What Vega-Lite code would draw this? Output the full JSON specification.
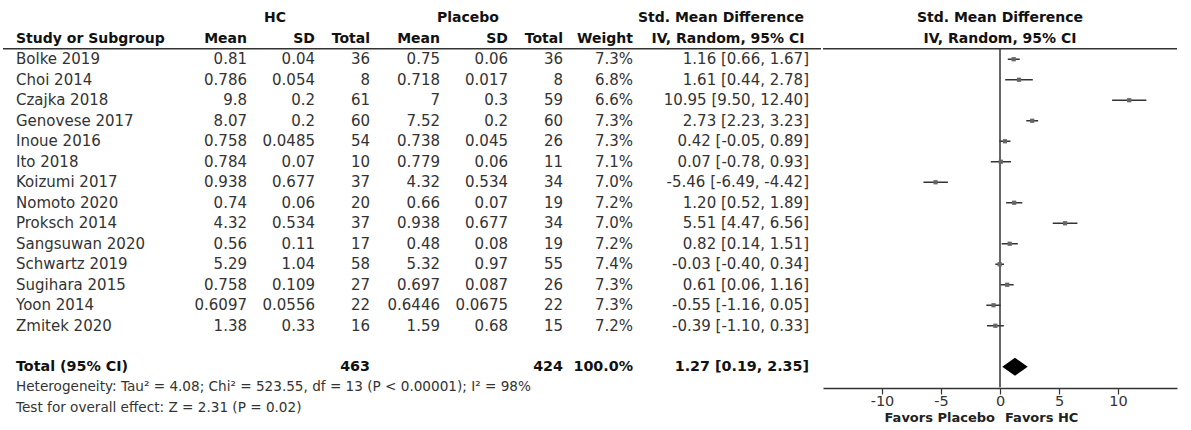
{
  "$schema": "https://vega.github.io/schema/vega-lite/v6.json",
  "padding": {"left": 0, "top": 8, "right": 0, "bottom": 0},
  "background": "white",
  "config": {
    "view": {"stroke": null},
    "concat": {"spacing": 0},
    "text": {"font": "DejaVu Sans", "fontSize": 15, "color": "#333", "baseline": "middle"}
  },
  "datasets": {
    "studies": [
      {"row": "Bolke 2019", "hm": "0.81", "hsd": "0.04", "hn": "36", "pm": "0.75", "psd": "0.06", "pn": "36", "w": "7.3%", "ci": "1.16 [0.66, 1.67]", "smd": 1.16, "lo": 0.66, "hi": 1.67},
      {"row": "Choi 2014", "hm": "0.786", "hsd": "0.054", "hn": "8", "pm": "0.718", "psd": "0.017", "pn": "8", "w": "6.8%", "ci": "1.61 [0.44, 2.78]", "smd": 1.61, "lo": 0.44, "hi": 2.78},
      {"row": "Czajka 2018", "hm": "9.8", "hsd": "0.2", "hn": "61", "pm": "7", "psd": "0.3", "pn": "59", "w": "6.6%", "ci": "10.95 [9.50, 12.40]", "smd": 10.95, "lo": 9.5, "hi": 12.4},
      {"row": "Genovese 2017", "hm": "8.07", "hsd": "0.2", "hn": "60", "pm": "7.52", "psd": "0.2", "pn": "60", "w": "7.3%", "ci": "2.73 [2.23, 3.23]", "smd": 2.73, "lo": 2.23, "hi": 3.23},
      {"row": "Inoue 2016", "hm": "0.758", "hsd": "0.0485", "hn": "54", "pm": "0.738", "psd": "0.045", "pn": "26", "w": "7.3%", "ci": "0.42 [-0.05, 0.89]", "smd": 0.42, "lo": -0.05, "hi": 0.89},
      {"row": "Ito 2018", "hm": "0.784", "hsd": "0.07", "hn": "10", "pm": "0.779", "psd": "0.06", "pn": "11", "w": "7.1%", "ci": "0.07 [-0.78, 0.93]", "smd": 0.07, "lo": -0.78, "hi": 0.93},
      {"row": "Koizumi 2017", "hm": "0.938", "hsd": "0.677", "hn": "37", "pm": "4.32", "psd": "0.534", "pn": "34", "w": "7.0%", "ci": "-5.46 [-6.49, -4.42]", "smd": -5.46, "lo": -6.49, "hi": -4.42},
      {"row": "Nomoto 2020", "hm": "0.74", "hsd": "0.06", "hn": "20", "pm": "0.66", "psd": "0.07", "pn": "19", "w": "7.2%", "ci": "1.20 [0.52, 1.89]", "smd": 1.2, "lo": 0.52, "hi": 1.89},
      {"row": "Proksch 2014", "hm": "4.32", "hsd": "0.534", "hn": "37", "pm": "0.938", "psd": "0.677", "pn": "34", "w": "7.0%", "ci": "5.51 [4.47, 6.56]", "smd": 5.51, "lo": 4.47, "hi": 6.56},
      {"row": "Sangsuwan 2020", "hm": "0.56", "hsd": "0.11", "hn": "17", "pm": "0.48", "psd": "0.08", "pn": "19", "w": "7.2%", "ci": "0.82 [0.14, 1.51]", "smd": 0.82, "lo": 0.14, "hi": 1.51},
      {"row": "Schwartz 2019", "hm": "5.29", "hsd": "1.04", "hn": "58", "pm": "5.32", "psd": "0.97", "pn": "55", "w": "7.4%", "ci": "-0.03 [-0.40, 0.34]", "smd": -0.03, "lo": -0.4, "hi": 0.34},
      {"row": "Sugihara 2015", "hm": "0.758", "hsd": "0.109", "hn": "27", "pm": "0.697", "psd": "0.087", "pn": "26", "w": "7.3%", "ci": "0.61 [0.06, 1.16]", "smd": 0.61, "lo": 0.06, "hi": 1.16},
      {"row": "Yoon 2014", "hm": "0.6097", "hsd": "0.0556", "hn": "22", "pm": "0.6446", "psd": "0.0675", "pn": "22", "w": "7.3%", "ci": "-0.55 [-1.16, 0.05]", "smd": -0.55, "lo": -1.16, "hi": 0.05},
      {"row": "Zmitek 2020", "hm": "1.38", "hsd": "0.33", "hn": "16", "pm": "1.59", "psd": "0.68", "pn": "15", "w": "7.2%", "ci": "-0.39 [-1.10, 0.33]", "smd": -0.39, "lo": -1.1, "hi": 0.33}
    ],
    "total": [
      {"row": "total", "label": "Total (95% CI)", "hn": "463", "pn": "424", "w": "100.0%", "ci": "1.27 [0.19, 2.35]", "smd": 1.27, "lo": 0.19, "hi": 2.35}
    ],
    "notes": [
      {"row": "het", "t": "Heterogeneity: Tau² = 4.08; Chi² = 523.55, df = 13 (P < 0.00001); I² = 98%"},
      {"row": "test", "t": "Test for overall effect: Z = 2.31 (P = 0.02)"}
    ],
    "one": [{}]
  },
  "resolve": {"scale": {"y": "shared", "x": "independent"}},
  "hconcat": [
    {
      "width": 821,
      "height": 410,
      "encoding": {
        "y": {"field": "row", "type": "nominal", "axis": null,
          "scale": {"type": "point", "padding": 0.5, "domain": ["h1", "h2", "Bolke 2019", "Choi 2014", "Czajka 2018", "Genovese 2017", "Inoue 2016", "Ito 2018", "Koizumi 2017", "Nomoto 2020", "Proksch 2014", "Sangsuwan 2020", "Schwartz 2019", "Sugihara 2015", "Yoon 2014", "Zmitek 2020", "gap", "total", "het", "test"]}}
      },
      "layer": [
        {"data": {"name": "one"}, "mark": {"type": "rule", "color": "#333", "strokeWidth": 1.6},
          "encoding": {"x": {"datum": 3, "type": "quantitative", "scale": {"domain": [0, 821], "nice": false, "zero": false}, "axis": null}, "x2": {"datum": 821}, "y": {"datum": "h2", "type": "nominal"}, "yOffset": {"value": 10}}},
        {"data": {"name": "one"}, "mark": {"type": "text", "text": "HC", "fontWeight": "bold", "fontSize": 14, "color": "#111", "align": "center"},
          "encoding": {"x": {"datum": 275, "type": "quantitative"}, "y": {"datum": "h1", "type": "nominal"}}},
        {"data": {"name": "one"}, "mark": {"type": "text", "text": "Placebo", "fontWeight": "bold", "fontSize": 14, "color": "#111", "align": "center"},
          "encoding": {"x": {"datum": 468, "type": "quantitative"}, "y": {"datum": "h1", "type": "nominal"}}},
        {"data": {"name": "one"}, "mark": {"type": "text", "text": "Std. Mean Difference", "fontWeight": "bold", "fontSize": 14, "color": "#111", "align": "center"},
          "encoding": {"x": {"datum": 721, "type": "quantitative"}, "y": {"datum": "h1", "type": "nominal"}}},
        {"data": {"name": "one"}, "mark": {"type": "text", "text": "Study or Subgroup", "fontWeight": "bold", "fontSize": 14, "color": "#111", "align": "left"},
          "encoding": {"x": {"datum": 16, "type": "quantitative"}, "y": {"datum": "h2", "type": "nominal"}}},
        {"data": {"name": "one"}, "mark": {"type": "text", "text": "Mean", "fontWeight": "bold", "fontSize": 14, "color": "#111", "align": "right"},
          "encoding": {"x": {"datum": 247, "type": "quantitative"}, "y": {"datum": "h2", "type": "nominal"}}},
        {"data": {"name": "one"}, "mark": {"type": "text", "text": "SD", "fontWeight": "bold", "fontSize": 14, "color": "#111", "align": "right"},
          "encoding": {"x": {"datum": 315, "type": "quantitative"}, "y": {"datum": "h2", "type": "nominal"}}},
        {"data": {"name": "one"}, "mark": {"type": "text", "text": "Total", "fontWeight": "bold", "fontSize": 14, "color": "#111", "align": "right"},
          "encoding": {"x": {"datum": 370, "type": "quantitative"}, "y": {"datum": "h2", "type": "nominal"}}},
        {"data": {"name": "one"}, "mark": {"type": "text", "text": "Mean", "fontWeight": "bold", "fontSize": 14, "color": "#111", "align": "right"},
          "encoding": {"x": {"datum": 440, "type": "quantitative"}, "y": {"datum": "h2", "type": "nominal"}}},
        {"data": {"name": "one"}, "mark": {"type": "text", "text": "SD", "fontWeight": "bold", "fontSize": 14, "color": "#111", "align": "right"},
          "encoding": {"x": {"datum": 508, "type": "quantitative"}, "y": {"datum": "h2", "type": "nominal"}}},
        {"data": {"name": "one"}, "mark": {"type": "text", "text": "Total", "fontWeight": "bold", "fontSize": 14, "color": "#111", "align": "right"},
          "encoding": {"x": {"datum": 563, "type": "quantitative"}, "y": {"datum": "h2", "type": "nominal"}}},
        {"data": {"name": "one"}, "mark": {"type": "text", "text": "Weight", "fontWeight": "bold", "fontSize": 14, "color": "#111", "align": "right"},
          "encoding": {"x": {"datum": 633, "type": "quantitative"}, "y": {"datum": "h2", "type": "nominal"}}},
        {"data": {"name": "one"}, "mark": {"type": "text", "text": "IV, Random, 95% CI", "fontWeight": "bold", "fontSize": 14, "color": "#111", "align": "center"},
          "encoding": {"x": {"datum": 728, "type": "quantitative"}, "y": {"datum": "h2", "type": "nominal"}}},
        {"data": {"name": "studies"}, "mark": {"type": "text", "align": "left"},
          "encoding": {"x": {"datum": 16, "type": "quantitative"}, "text": {"field": "row"}}},
        {"data": {"name": "studies"}, "mark": {"type": "text", "align": "right"},
          "encoding": {"x": {"datum": 247, "type": "quantitative"}, "text": {"field": "hm"}}},
        {"data": {"name": "studies"}, "mark": {"type": "text", "align": "right"},
          "encoding": {"x": {"datum": 315, "type": "quantitative"}, "text": {"field": "hsd"}}},
        {"data": {"name": "studies"}, "mark": {"type": "text", "align": "right"},
          "encoding": {"x": {"datum": 370, "type": "quantitative"}, "text": {"field": "hn"}}},
        {"data": {"name": "studies"}, "mark": {"type": "text", "align": "right"},
          "encoding": {"x": {"datum": 440, "type": "quantitative"}, "text": {"field": "pm"}}},
        {"data": {"name": "studies"}, "mark": {"type": "text", "align": "right"},
          "encoding": {"x": {"datum": 508, "type": "quantitative"}, "text": {"field": "psd"}}},
        {"data": {"name": "studies"}, "mark": {"type": "text", "align": "right"},
          "encoding": {"x": {"datum": 563, "type": "quantitative"}, "text": {"field": "pn"}}},
        {"data": {"name": "studies"}, "mark": {"type": "text", "align": "right"},
          "encoding": {"x": {"datum": 633, "type": "quantitative"}, "text": {"field": "w"}}},
        {"data": {"name": "studies"}, "mark": {"type": "text", "align": "right"},
          "encoding": {"x": {"datum": 809, "type": "quantitative"}, "text": {"field": "ci"}}},
        {"data": {"name": "total"}, "mark": {"type": "text", "align": "left", "fontWeight": "bold", "fontSize": 14.3, "color": "#111"},
          "encoding": {"x": {"datum": 16, "type": "quantitative"}, "text": {"field": "label"}}},
        {"data": {"name": "total"}, "mark": {"type": "text", "align": "right", "fontWeight": "bold", "fontSize": 14.3, "color": "#111"},
          "encoding": {"x": {"datum": 370, "type": "quantitative"}, "text": {"field": "hn"}}},
        {"data": {"name": "total"}, "mark": {"type": "text", "align": "right", "fontWeight": "bold", "fontSize": 14.3, "color": "#111"},
          "encoding": {"x": {"datum": 563, "type": "quantitative"}, "text": {"field": "pn"}}},
        {"data": {"name": "total"}, "mark": {"type": "text", "align": "right", "fontWeight": "bold", "fontSize": 14.3, "color": "#111"},
          "encoding": {"x": {"datum": 633, "type": "quantitative"}, "text": {"field": "w"}}},
        {"data": {"name": "total"}, "mark": {"type": "text", "align": "right", "fontWeight": "bold", "fontSize": 14.3, "color": "#111"},
          "encoding": {"x": {"datum": 809, "type": "quantitative"}, "text": {"field": "ci"}}},
        {"data": {"name": "notes"}, "mark": {"type": "text", "align": "left", "fontSize": 13.6},
          "encoding": {"x": {"datum": 16, "type": "quantitative"}, "text": {"field": "t"}}}
      ]
    },
    {
      "width": 354,
      "height": 410,
      "encoding": {
        "y": {"field": "row", "type": "nominal", "axis": null,
          "scale": {"type": "point", "padding": 0.5, "domain": ["h1", "h2", "Bolke 2019", "Choi 2014", "Czajka 2018", "Genovese 2017", "Inoue 2016", "Ito 2018", "Koizumi 2017", "Nomoto 2020", "Proksch 2014", "Sangsuwan 2020", "Schwartz 2019", "Sugihara 2015", "Yoon 2014", "Zmitek 2020", "gap", "total", "het", "test"]}}
      },
      "layer": [
        {"data": {"name": "one"}, "mark": {"type": "rule", "color": "#333", "strokeWidth": 1.6},
          "encoding": {"x": {"datum": -15, "type": "quantitative", "scale": {"domain": [-15, 15], "nice": false, "zero": false},
            "axis": {"values": [-10, -5, 0, 5, 10], "labelExpr": "'' + datum.value", "offset": -30, "title": null, "grid": false, "domainColor": "#333", "domainWidth": 1.5, "tickColor": "#333", "tickWidth": 1.2, "tickSize": 6, "labelFont": "DejaVu Sans", "labelFontSize": 14.5, "labelColor": "#333", "labelPadding": 0}},
            "x2": {"datum": 15}, "x2Offset": {"value": 16}, "y": {"datum": "h2", "type": "nominal"}, "yOffset": {"value": 10}}},
        {"data": {"name": "one"}, "mark": {"type": "rule", "color": "#333", "strokeWidth": 1.5},
          "encoding": {"x": {"datum": 0, "type": "quantitative"}, "y": {"datum": "h2", "type": "nominal"}, "yOffset": {"value": 10}, "y2": {"datum": "het"}, "y2Offset": {"value": 0.75}}},
        {"data": {"name": "studies"}, "mark": {"type": "rule", "color": "#333", "strokeWidth": 1.5},
          "encoding": {"x": {"field": "lo", "type": "quantitative"}, "x2": {"field": "hi"}}},
        {"data": {"name": "studies"}, "mark": {"type": "point", "shape": "square", "filled": true, "color": "#666", "size": 18, "opacity": 1},
          "encoding": {"x": {"field": "smd", "type": "quantitative"}}},
        {"data": {"name": "total"}, "mark": {"type": "point", "shape": "M-1,0L0,-0.7L1,0L0,0.7Z", "filled": true, "color": "black", "size": 650, "opacity": 1},
          "encoding": {"x": {"field": "smd", "type": "quantitative"}}},
        {"data": {"name": "one"}, "mark": {"type": "text", "text": "Std. Mean Difference", "fontWeight": "bold", "fontSize": 14, "color": "#111", "align": "center"},
          "encoding": {"x": {"datum": 0, "type": "quantitative"}, "y": {"datum": "h1", "type": "nominal"}}},
        {"data": {"name": "one"}, "mark": {"type": "text", "text": "IV, Random, 95% CI", "fontWeight": "bold", "fontSize": 14, "color": "#111", "align": "center"},
          "encoding": {"x": {"datum": 0, "type": "quantitative"}, "y": {"datum": "h2", "type": "nominal"}}},
        {"data": {"name": "one"}, "mark": {"type": "text", "text": "Favors Placebo", "fontWeight": "bold", "color": "#222", "align": "right", "fontSize": 13, "dx": -5, "dy": 10},
          "encoding": {"x": {"datum": 0, "type": "quantitative"}, "y": {"datum": "test", "type": "nominal"}}},
        {"data": {"name": "one"}, "mark": {"type": "text", "text": "Favors HC", "fontWeight": "bold", "color": "#222", "align": "left", "fontSize": 13, "dx": 5, "dy": 10},
          "encoding": {"x": {"datum": 0, "type": "quantitative"}, "y": {"datum": "test", "type": "nominal"}}}
      ]
    }
  ]
}
